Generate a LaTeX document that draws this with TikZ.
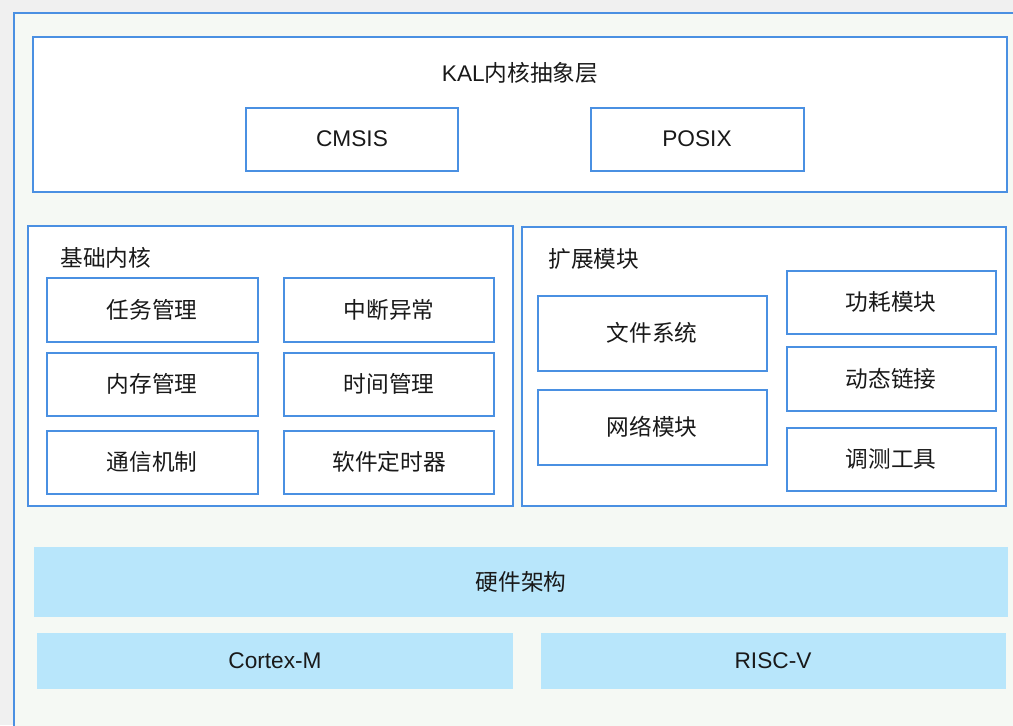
\documentclass[tikz,border=0pt]{standalone}
\usepackage{fontspec}
\setmainfont{Liberation Sans}
\newfontfamily\cjk{Noto Sans CJK SC}

\definecolor{lineblue}{RGB}{74,144,226}
\definecolor{hwblue}{RGB}{184,230,251}
\definecolor{pagegray}{RGB}{240,240,240}
\definecolor{framegreen}{RGB}{245,249,244}

\tikzset{every picture/.style={line width=0.75pt}}
\tikzset{
  box/.style={draw=lineblue, line width=1.3pt, fill=white},
  hwbox/.style={fill=hwblue},
  lbl/.style={inner sep=0.75pt, text=black!90, font=\fontsize{17}{20}\selectfont\cjk}
}

\begin{document}
\begin{tikzpicture}[x=0.75pt,y=0.75pt,yscale=-1,xscale=1]
\useasboundingbox (0,0) rectangle (1013,725);
\clip (0,0) rectangle (1013,725);
\fill [pagegray] (0,0) rectangle (1013,725);

%Shape: outer frame
\draw [draw=lineblue, line width=1.3pt, fill=framegreen] (14,13) rectangle (1030,740);

%Shape: KAL layer
\draw [box] (33,37) rectangle (1007,192);
\draw [box] (246,108) rectangle (458,171);
\draw [box] (591,108) rectangle (804,171);

%Shape: base kernel
\draw [box] (28,226) rectangle (513,506);
\draw [box] (47,278) rectangle (258,342);
\draw [box] (284,278) rectangle (494,342);
\draw [box] (47,353) rectangle (258,416);
\draw [box] (284,353) rectangle (494,416);
\draw [box] (47,431) rectangle (258,494);
\draw [box] (284,431) rectangle (494,494);

%Shape: extension modules
\draw [box] (522,227) rectangle (1006,506);
\draw [box] (538,296) rectangle (767,371);
\draw [box] (538,390) rectangle (767,465);
\draw [box] (787,271) rectangle (996,334);
\draw [box] (787,347) rectangle (996,411);
\draw [box] (787,428) rectangle (996,491);

%Shape: hardware
\fill [hwblue] (34,547) rectangle (1008,617);
\fill [hwblue] (37,633) rectangle (513,689);
\fill [hwblue] (541,633) rectangle (1006,689);

% Text Node
\draw (520,73) node (kal) [lbl] {{\rmfamily KAL}内核抽象层};
% Text Node
\draw (352,139) node (cmsis) [lbl] {\rmfamily CMSIS};
% Text Node
\draw (697,139) node (posix) [lbl] {\rmfamily POSIX};
% Text Node
\draw (59,258) node (base) [lbl, anchor=west] {基础内核};
% Text Node
\draw (152,310) node (task) [lbl] {任务管理};
% Text Node
\draw (389,310) node (intr) [lbl] {中断异常};
% Text Node
\draw (152,384) node (mem) [lbl] {内存管理};
% Text Node
\draw (389,384) node (time) [lbl] {时间管理};
% Text Node
\draw (152,462) node (ipc) [lbl] {通信机制};
% Text Node
\draw (389,462) node (timer) [lbl] {软件定时器};
% Text Node
\draw (547,259) node (ext) [lbl, anchor=west] {扩展模块};
% Text Node
\draw (652,333) node (fs) [lbl] {文件系统};
% Text Node
\draw (652,427) node (net) [lbl] {网络模块};
% Text Node
\draw (891,302) node (pm) [lbl] {功耗模块};
% Text Node
\draw (891,379) node (dyn) [lbl] {动态链接};
% Text Node
\draw (891,459) node (dbg) [lbl] {调测工具};
% Text Node
\draw (521,582) node (hw) [lbl] {硬件架构};
% Text Node
\draw (275,661) node (cortex) [lbl] {\rmfamily Cortex-M};
% Text Node
\draw (773,661) node (riscv) [lbl] {\rmfamily RISC-V};

\end{tikzpicture}
\end{document}
